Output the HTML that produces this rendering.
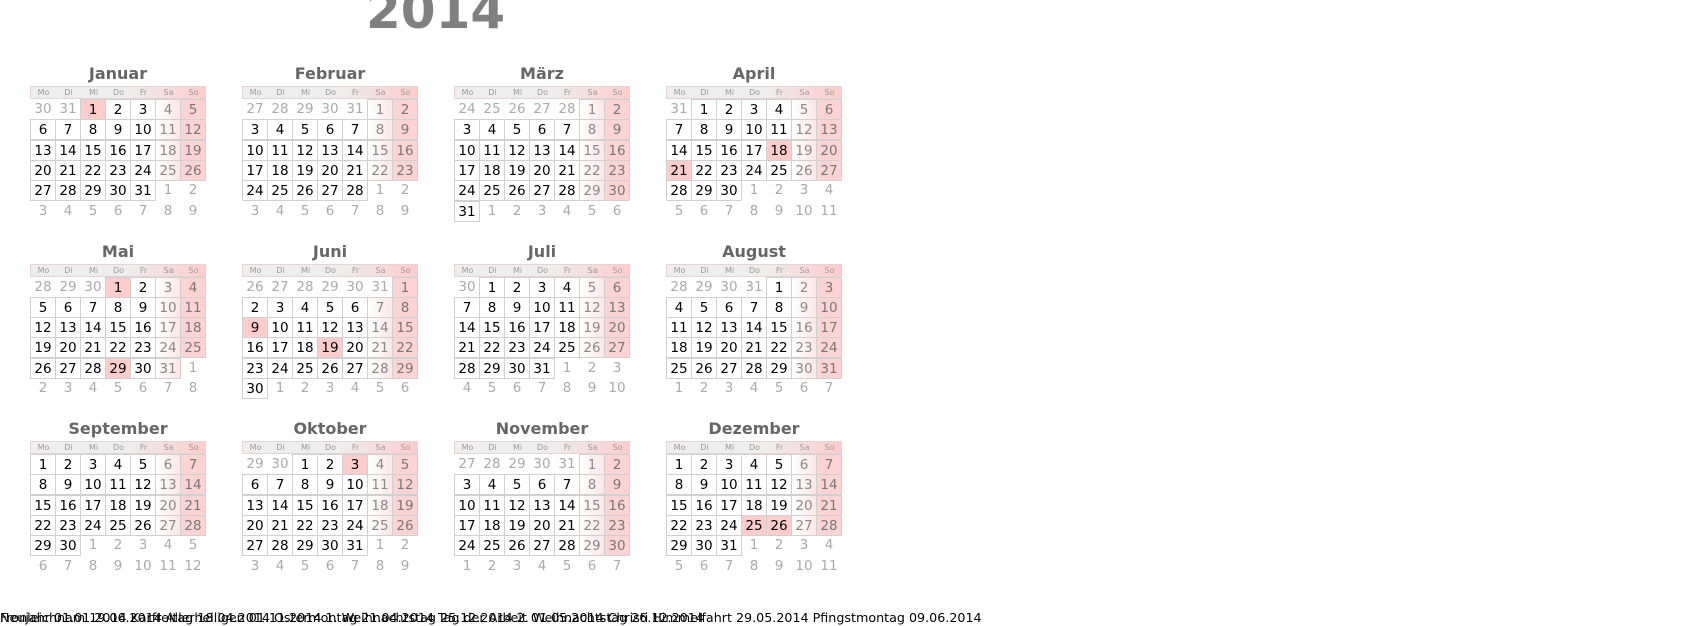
<!DOCTYPE html>
<html><head><meta charset="utf-8">
<style>
body{margin:0;width:1696px;height:626px;background:#fff;position:relative;overflow:hidden;font-family:"DejaVu Sans","Liberation Sans",sans-serif;}
.year{position:absolute;left:366px;top:-14px;font-size:50px;font-weight:bold;color:#808080;line-height:50px;}
.t{position:absolute;width:176px;text-align:center;font-size:16px;font-weight:bold;color:#666;line-height:20px;}
.hd{position:absolute;height:13px;width:176px;background:linear-gradient(to right,#eee 0%,#eee 55%,#fcc 100%);border:1px solid #e4d4d4;box-sizing:border-box;}
.hd span{position:absolute;top:0;width:25px;text-align:center;font-size:8px;color:#999;line-height:12px;}
.c{position:absolute;width:26px;height:21px;box-sizing:border-box;text-align:center;font-size:13.5px;line-height:20px;color:#000;}
.in{border:1px solid #d0d0d0;background:#fff;}
.sa{background:linear-gradient(to right,#fff,#fde6e6);color:#888;}
.so{background:#fdd3d3;color:#777;}
.hol{background:#fcc;color:#000;}
.out{color:#aaa;}
.f{position:absolute;top:610px;font-size:12.7px;color:#000;white-space:nowrap;line-height:16px;}
</style></head><body>
<div class="year">2014</div>
<div id="root"></div>
<div class="f" style="left:0">Neujahr 01.01.2014 Karfreitag 18.04.2014 Ostermontag 21.04.2014 Tag der Arbeit 01.05.2014 Christi Himmelfahrt 29.05.2014 Pfingstmontag 09.06.2014</div>
<div class="f" style="left:0">Fronleichnam 19.06.2014 Allerheiligen 01.11.2014 1. Weihnachtstag 25.12.2014 2. Weihnachtstag 26.12.2014</div>
<script>
var names=["Januar","Februar","März","April","Mai","Juni","Juli","August","September","Oktober","November","Dezember"];
var wd=["Mo","Di","Mi","Do","Fr","Sa","So"];
var hol={"0-1":1,"3-18":1,"3-21":1,"4-1":1,"4-29":1,"5-9":1,"5-19":1,"9-3":1,"11-25":1,"11-26":1};
var xs=[30,242,454,666],ys=[86,263.5,441];
var h="";
for(var m=0;m<12;m++){
 var X=xs[m%4],Y=ys[Math.floor(m/4)];
 h+='<div class="t" style="left:'+X+'px;top:'+(Y-22)+'px">'+names[m]+'</div>';
 h+='<div class="hd" style="left:'+X+'px;top:'+Y+'px">';
 for(var i=0;i<7;i++)h+='<span style="left:'+(i*25)+'px">'+wd[i]+'</span>';
 h+='</div>';
 var first=new Date(2014,m,1);var dow=(first.getDay()+6)%7;
 var start=new Date(2014,m,1-dow);
 for(var k=0;k<42;k++){
  var d=new Date(start.getFullYear(),start.getMonth(),start.getDate()+k);
  var r=Math.floor(k/7),col=k%7;
  var cls="c";
  if(d.getMonth()==m){cls+=" in";
   if(hol[m+"-"+d.getDate()])cls+=" hol";else if(col==5)cls+=" sa";else if(col==6)cls+=" so";}
  else cls+=" out";
  h+='<div class="'+cls+'" style="left:'+(X+col*25)+'px;top:'+(Y+13+r*20.3)+'px">'+d.getDate()+'</div>';
 }
}
document.getElementById("root").innerHTML=h;
</script>
</body></html>
